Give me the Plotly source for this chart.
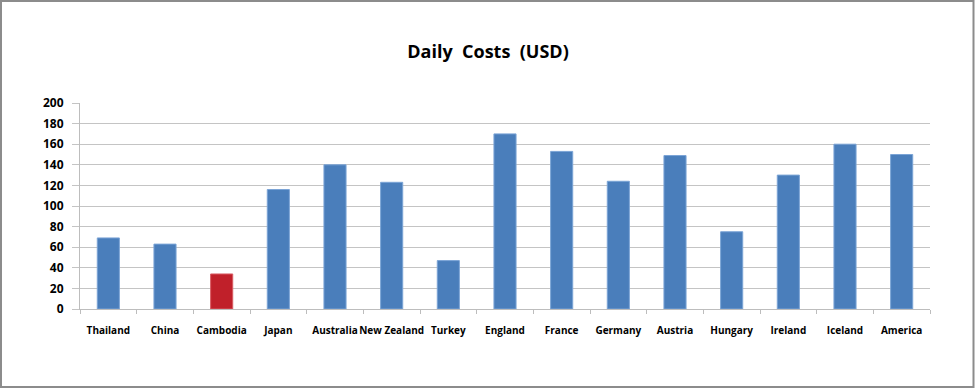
import plotly.graph_objects as go

countries = ["Thailand", "China", "Cambodia", "Japan", "Australia", "New Zealand", "Turkey",
             "England", "France", "Germany", "Austria", "Hungary", "Ireland", "Iceland", "America"]
daily_cost = [69, 63, 34, 116, 140, 123, 47, 170, 153, 124, 149, 75, 130, 160, 150]
highlight = "Cambodia"
y_ticks = [0, 20, 40, 60, 80, 100, 120, 140, 160, 180, 200]

fill = ["#c0202a" if c == highlight else "#4a7ebb" for c in countries]
edge = ["#d85a62" if c == highlight else "#7ba4d6" for c in countries]

fig = go.Figure(go.Bar(
    x=countries, y=daily_cost,
    marker=dict(color=fill, line=dict(color=edge, width=1)),
    width=0.39,
))

L, R, T, B = 80, 45, 103, 79
W, H = 975, 388
pw, ph = W - L - R, H - T - B

fig.update_layout(
    width=W, height=H,
    margin=dict(l=L, r=R, t=T, b=B),
    paper_bgcolor="white", plot_bgcolor="white",
    showlegend=False,
    title=dict(text="Daily\u00a0\u00a0Costs\u00a0\u00a0(USD)", x=488 / W, xanchor="center",
               y=1 - 52 / H, yanchor="middle",
               font=dict(family="Open Sans", size=18, color="#000000", weight="bold")),
    xaxis=dict(
        type="category",
        showline=True, linecolor="#bdbdbd", linewidth=1,
        ticks="outside", tickson="boundaries", ticklen=4, tickcolor="#bdbdbd",
        tickangle=0,
        tickfont=dict(family="Open Sans", size=10, color="#000000", weight="bold"),
        ticklabelstandoff=12,
        showgrid=False,
    ),
    yaxis=dict(
        range=[0, 200], tickvals=y_ticks,
        showline=True, linecolor="#bdbdbd", linewidth=1,
        showgrid=True, gridcolor="#c4c4c4", gridwidth=1,
        ticks="outside", ticklen=7, tickcolor="#c4c4c4",
        tickfont=dict(family="Open Sans", size=12, color="#000000", weight="bold"),
        ticklabelstandoff=6,
        zeroline=False,
    ),
    shapes=[dict(
        type="rect", xref="paper", yref="paper",
        x0=(1 - L) / pw, x1=(973.5 - L) / pw,
        y0=(H - B - 387) / ph, y1=(H - B - 1) / ph,
        line=dict(color="#8c8c8c", width=2), fillcolor="rgba(0,0,0,0)", layer="below",
    )],
)

fig.write_html("out.html")
